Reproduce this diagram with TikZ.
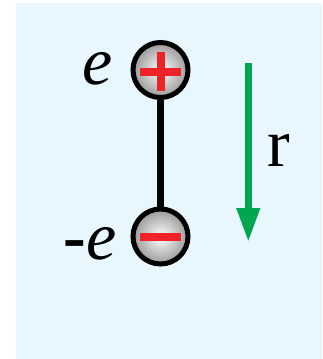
\documentclass[tikz,border=0pt]{standalone}
\usepackage{fontspec}
\setmainfont{Liberation Serif}
\usetikzlibrary{arrows.meta}
\definecolor{bgblue}{HTML}{E8F6FE}
\definecolor{arrgreen}{HTML}{00A651}
\definecolor{signred}{HTML}{EE2229}
\tikzset{
  charge/.style={circle, draw=black, line width=5pt, minimum size=55pt, inner sep=0pt,
    shading=radial, inner color=white, outer color=black!40},
  sign/.style={fill=signred, draw=none},
  lab/.style={inner sep=0pt, font=\fontsize{68}{68}\selectfont},
  rod/.style={line width=7pt, black},
  vec/.style={line width=7pt, arrgreen, -{Triangle[length=34pt,width=22pt]}}
}
\begin{document}
\begin{tikzpicture}[x=1pt,y=-1pt]
\useasboundingbox (0,0) rectangle (322,359);
\fill[white] (0,0) rectangle (322,359);
\fill[bgblue] (16,3) rectangle (322,359);
\node[charge] (p) at (160.5,70) {};
\node[charge] (n) at (160.5,236.5) {};
\draw[rod] (p.south) -- (n.north);
\fill[sign] (140,67.5) rectangle (181,75.5);
\fill[sign] (156.5,52) rectangle (164.5,91);
\fill[sign] (140,232.5) rectangle (181,240.5);
\node[lab, anchor=east] (ep) at (113,69) {\itshape e};
\node[lab, anchor=east] (en) at (117,244) {{\bfseries -}\itshape e};
\coordinate (a1) at (248.3,62.5);
\coordinate (a2) at (248.3,242);
\draw[vec] (a1) -- (a2);
\node[lab] (r) at (278.5,150) {r};
\end{tikzpicture}
\end{document}
